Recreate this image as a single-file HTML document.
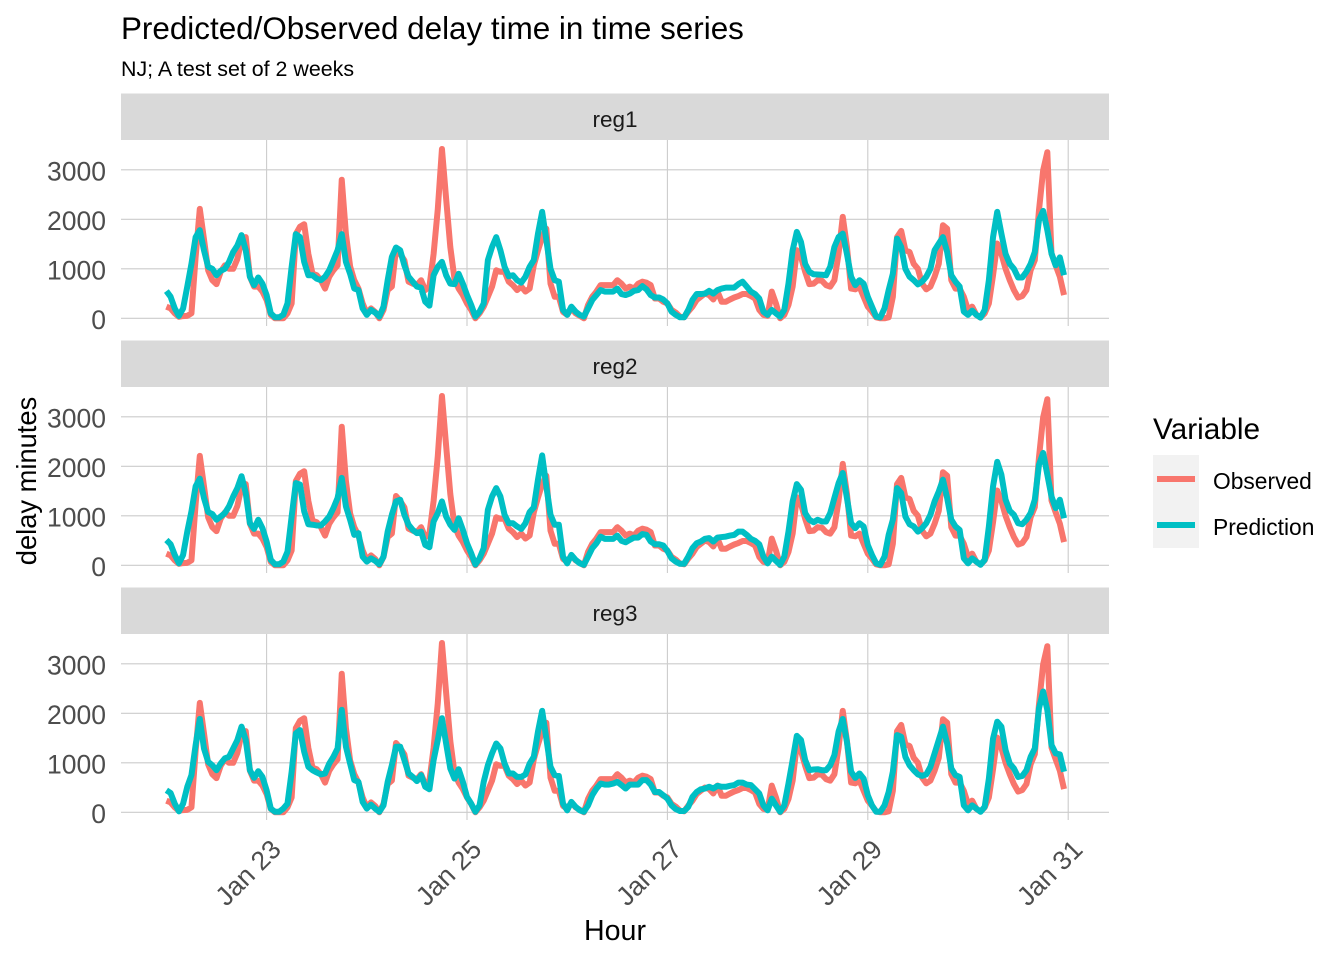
<!DOCTYPE html>
<html>
<head>
<meta charset="utf-8">
<title>Predicted/Observed delay time in time series</title>
<style>
html,body{margin:0;padding:0;background:#fff;}
svg{display:block;font-family:"Liberation Sans",Arial,sans-serif;}
</style>
</head>
<body>
<svg id="chart" xmlns="http://www.w3.org/2000/svg" width="1344" height="960" viewBox="0 0 1344 960">
  <rect x="0" y="0" width="1344" height="960" fill="#ffffff"/>
  <text x="121" y="39" font-size="31.4" fill="#000">Predicted/Observed delay time in time series</text>
  <text x="121" y="76" font-size="21.4" fill="#000">NJ; A test set of 2 weeks</text>
  <text transform="translate(36,481) rotate(-90)" text-anchor="middle" font-size="27.3" fill="#000">delay minutes</text>
  <text x="615" y="940" text-anchor="middle" font-size="28.6" fill="#000">Hour</text>
  <g>
    <text x="1153" y="439" font-size="29.8" fill="#000">Variable</text>
    <rect x="1153" y="455" width="46" height="46.5" fill="#F2F2F2"/>
    <rect x="1153" y="501.5" width="46" height="46.5" fill="#F2F2F2"/>
    <line x1="1157" x2="1195" y1="479" y2="479" stroke="#F8766D" stroke-width="6"/>
    <line x1="1157" x2="1195" y1="525" y2="525" stroke="#00BFC4" stroke-width="6"/>
    <text x="1213" y="489" font-size="22.8" fill="#000">Observed</text>
    <text x="1213" y="535" font-size="22.8" fill="#000">Prediction</text>
  </g>
</svg>
<script>
const panelNames = ['reg1', 'reg2', 'reg3'];
const yTicks = [0, 1000, 2000, 3000];
const xTickHours = [24, 72, 120, 168, 216];
const xTickLabels = ['Jan 23', 'Jan 25', 'Jan 27', 'Jan 29', 'Jan 31'];

const observed = [
235,200,100,30,45,50,100,1240,2210,1600,970,770,690,940,1070,1000,1000,1200,1580,1640,840,640,640,540,
370,70,0,0,0,100,300,1700,1850,1900,1300,900,870,770,600,840,970,1070,2800,1700,1050,770,600,300,
100,200,130,0,170,570,640,1400,1300,1170,740,700,670,770,570,640,1300,2200,3420,2415,1440,800,600,470,300,170,
0,100,235,435,640,970,940,940,740,670,570,640,540,600,1070,1370,1640,1810,700,435,435,130,70,200,100,50,
0,270,435,540,670,670,670,670,770,700,600,640,600,700,740,720,670,400,400,335,300,
170,115,35,20,135,235,370,435,500,470,380,540,335,335,380,420,450,490,490,450,400,170,70,50,540,300,0,
70,270,640,1375,
1240,940,690,700,770,760,670,640,770,1300,2050,1450,600,585,640,435,
235,135,20,0,0,20,435,1640,1765,1375,1340,1100,1000,700,585,640,
840,1100,1880,1810,770,600,600,435,170,235,70,15,100,300,870,1510,
1300,1000,770,570,420,450,570,970,1175,2180,2990,3355,1310,1070,840,470
];

const predictionReg1 = [
550,436,200,47,200,640,1100,1640,1780,1375,1040,1000,870,960,1000,1140,1340,1470,1680,1375,840,670,825,700,
470,100,20,20,70,300,1040,1700,1640,1140,870,870,800,770,840,970,1170,1375,1700,1140,900,600,570,200,
70,170,115,35,235,770,1240,1430,1375,1070,840,740,640,620,335,255,870,1040,1140,870,700,690,900,700,470,270,
35,135,300,1175,1440,1640,1375,1040,850,870,770,720,840,1040,1175,1710,2150,1580,1000,770,740,170,70,235,135,70,
35,200,370,470,570,540,540,540,600,490,470,500,555,570,650,585,470,420,420,380,300,
135,70,20,20,170,370,490,490,500,555,500,570,600,620,620,620,690,740,640,540,490,400,135,70,170,100,35,
170,700,1375,1745,
1540,1100,940,890,885,880,870,1040,1440,1640,1710,1300,840,670,770,700,
435,235,35,20,200,570,900,1610,1440,1000,840,770,685,740,840,1000,
1375,1510,1640,1340,870,740,640,135,70,155,70,15,170,770,1640,2150,
1710,1300,1100,1000,825,825,940,1100,1340,1980,2170,1780,1310,1070,1230,870
];

const predictionReg2 = [
510,425,210,40,210,680,1090,1595,1750,1360,1075,1035,920,985,1055,1190,1390,1560,1800,1460,850,735,920,750,
480,110,20,20,75,275,985,1660,1630,1090,830,820,805,805,885,985,1155,1360,1765,1190,920,615,650,175,
75,140,90,20,175,680,1020,1290,1325,1020,820,715,650,680,410,365,885,1055,1290,985,820,715,950,715,445,245,
15,140,345,1120,1390,1560,1390,1020,850,850,785,735,850,1075,1170,1730,2220,1595,1020,820,820,175,40,210,110,40,
10,175,345,445,580,535,535,535,600,495,465,515,560,560,630,615,480,425,425,400,290,
140,75,30,30,175,345,445,480,535,550,480,560,570,580,600,615,680,680,615,535,495,425,175,40,175,90,10,
175,680,1290,1640,
1525,1055,920,870,920,885,885,1055,1360,1660,1865,1360,850,750,850,785,
410,210,40,10,175,615,920,1560,1460,985,830,785,680,750,850,1020,
1290,1490,1730,1360,920,785,715,140,40,140,75,10,110,785,1595,2090,
1830,1325,1100,1020,850,830,920,1055,1325,2030,2270,1830,1390,1155,1325,950
];

const predictionReg3 = [
445,390,175,20,175,515,750,1360,1885,1290,1020,950,850,985,1090,1120,1290,1460,1730,1460,850,695,830,715,
445,75,10,10,75,175,820,1595,1660,1225,920,850,805,765,785,985,1120,1290,2070,1325,985,650,615,210,
75,155,75,10,140,615,950,1325,1325,1055,785,715,630,750,515,465,1055,1460,1900,1390,885,680,870,615,310,175,
10,140,615,950,1190,1390,1290,985,785,785,715,715,765,985,1120,1630,2050,1490,920,750,735,175,40,210,110,40,
10,140,345,480,580,560,560,580,615,550,480,560,560,560,650,650,560,410,410,345,275,
140,65,25,25,110,310,410,465,480,515,480,535,515,515,535,550,600,600,560,550,465,380,140,40,275,140,10,
140,580,1055,1545,
1460,1055,850,865,870,850,850,950,1155,1630,1885,1425,820,695,785,680,
345,140,10,10,140,410,820,1560,1525,1120,950,850,765,735,765,920,
1190,1460,1730,1390,885,750,715,140,40,140,75,10,110,680,1490,1830,
1730,1255,985,885,715,735,850,1120,1290,2100,2440,2065,1360,1190,1170,820
];

const predictionByPanel = [predictionReg1, predictionReg2, predictionReg3];

const SVG_NS = 'http://www.w3.org/2000/svg';
const svg = document.getElementById('chart');
const plotLeft = 121;
const plotRight = 1109;
const panelTopFirst = 140;
const panelStep = 247;
const panelHeight = 186;
const stripHeight = 46.5;
const zeroOffset = 178.3;
const pxPerUnit = 0.0495;
const hourOrigin = 166.4;
const pxPerHour = 4.175;
const seriesWidth = 6;

function xScale(hour) {
  return hourOrigin + pxPerHour * hour;
}
function panelTop(panel) {
  return panelTopFirst + panelStep * panel;
}
function yScale(value, panel) {
  return panelTop(panel) + zeroOffset - pxPerUnit * value;
}
function make(tag, attrs) {
  const el = document.createElementNS(SVG_NS, tag);
  for (const key in attrs) {
    el.setAttribute(key, attrs[key]);
  }
  return el;
}
function seriesPath(values, panel) {
  return values.map(function (v, h) {
    return (h === 0 ? 'M' : 'L') + xScale(h).toFixed(2) + ' ' + yScale(v, panel).toFixed(2);
  }).join(' ');
}

panelNames.forEach(function (name, p) {
  const top = panelTop(p);

  const group = make('g', {});
  
  
  svg.appendChild(group);

  const strip = make('rect', {x: plotLeft, y: top - stripHeight, width: plotRight - plotLeft, height: stripHeight, fill: '#D9D9D9'});
  
  
  group.appendChild(strip);

  const stripLabel = make('text', {x: (plotLeft + plotRight) / 2, y: top - 13, 'text-anchor': 'middle', 'font-size': 22.5, fill: '#1A1A1A'});
  stripLabel.textContent = name;
  
  
  group.appendChild(stripLabel);

  yTicks.forEach(function (tick) {
    const y = yScale(tick, p);
    const grid = make('line', {x1: plotLeft, x2: plotRight, y1: y, y2: y, stroke: '#CCCCCC', 'stroke-width': 1.1});
    
    
    group.appendChild(grid);

    const label = make('text', {x: 106, y: y + 10.5, 'text-anchor': 'end', 'font-size': 26.5, fill: '#4D4D4D'});
    label.textContent = String(tick);
    
    
    group.appendChild(label);
  });

  xTickHours.forEach(function (hour) {
    const x = xScale(hour);
    const grid = make('line', {x1: x, x2: x, y1: top, y2: top + panelHeight, stroke: '#CCCCCC', 'stroke-width': 1.1});
    
    
    group.appendChild(grid);
  });

  const obsLine = make('path', {d: seriesPath(observed, p), fill: 'none', stroke: '#F8766D', 'stroke-width': seriesWidth, 'stroke-linejoin': 'round', 'stroke-linecap': 'butt'});
  
  
  group.appendChild(obsLine);

  const predLine = make('path', {d: seriesPath(predictionByPanel[p], p), fill: 'none', stroke: '#00BFC4', 'stroke-width': seriesWidth, 'stroke-linejoin': 'round', 'stroke-linecap': 'butt'});
  
  
  group.appendChild(predLine);
});

xTickHours.forEach(function (hour, i) {
  const x = xScale(hour) + 16;
  const y = 851;
  const label = make('text', {x: x, y: y, 'text-anchor': 'end', 'font-size': 26.5, fill: '#4D4D4D', transform: 'rotate(-45 ' + x + ' ' + y + ')'});
  label.textContent = xTickLabels[i];
  
  
  svg.appendChild(label);
});
</script>
</body>
</html>
